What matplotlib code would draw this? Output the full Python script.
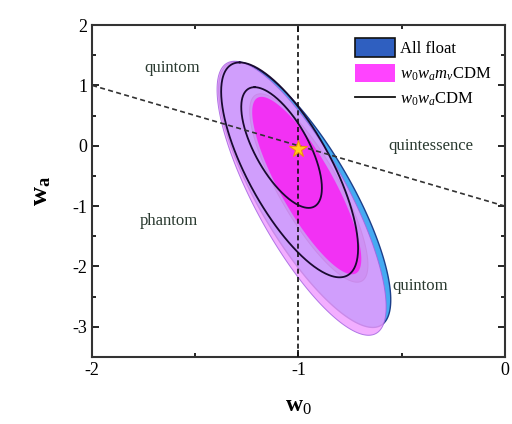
import numpy as np
import matplotlib
matplotlib.use('Agg')
import matplotlib.pyplot as plt
from matplotlib.patches import Patch
from matplotlib.lines import Line2D

plt.rcParams['font.family'] = ['Liberation Serif', 'DejaVu Serif']
plt.rcParams['mathtext.fontset'] = 'custom'
plt.rcParams['mathtext.rm'] = 'Liberation Serif'
plt.rcParams['mathtext.it'] = 'Liberation Serif:italic'
plt.rcParams['mathtext.bf'] = 'Liberation Serif:bold'
plt.rcParams['axes.unicode_minus'] = False

# contour parameters: centre (w0, wa), half-height in wa, slope dw0/dwa, half-width in w0
allfloat_2s = dict(c=(-0.970, -0.81), hy=2.20, slope=-0.150, hx=0.255)
allfloat_1s = dict(c=(-0.950, -0.70), hy=1.56, slope=-0.150, hx=0.165)
mnu_2s = dict(c=(-0.985, -0.87), hy=2.27, slope=-0.143, hx=0.250)
mnu_1s = dict(c=(-0.960, -0.66), hy=1.47, slope=-0.149, hx=0.148)
lcdm_2s = dict(c=(-1.043, -0.40), hy=1.78, slope=-0.136, hx=0.227)
lcdm_1s = dict(c=(-1.082, -0.03), hy=1.00, slope=-0.131, hx=0.145)

best_fit = (-1.0, -0.05)


def outline(p, n=300):
    t = np.linspace(0, 2 * np.pi, n)
    cx, cy = p['c']
    y = cy + p['hy'] * np.cos(t)
    x = cx + p['slope'] * (y - cy) + p['hx'] * np.sin(t)
    return x, y


fig = plt.figure(figsize=(5.12, 4.24), dpi=100)
ax = fig.add_axes([0.180, 0.158, 0.806, 0.783])

x, y = outline(allfloat_2s)
ax.fill(x, y, color='#45aaf2', ec='#1d3f8a', lw=1.0, zorder=1)
x, y = outline(allfloat_1s)
ax.fill(x, y, color='#3a62c8', ec='#1d3f8a', lw=0.8, zorder=1)
x, y = outline(mnu_2s)
ax.fill(x, y, color='#f09cff', alpha=0.82, ec='#a060e0', lw=0.7, zorder=2)
x, y = outline(mnu_1s)
ax.fill(x, y, color='#f52cf5', alpha=0.95, lw=0, zorder=3)
for p in (lcdm_2s, lcdm_1s):
    x, y = outline(p)
    ax.plot(x, y, color='#1a0a30', lw=1.3, zorder=4)

# phantom divide lines
w0_line = np.array([-2.0, 0.0])
ax.plot(w0_line, -w0_line - 1, ls=(0, (3, 2)), color='#333333', lw=1.2, zorder=5)
ax.axvline(-1.0, ls=(0, (3, 2)), color='#111111', lw=1.2, zorder=5)
ax.plot(*best_fit, marker='*', ms=13, color='#ffd21a', mec='#f09010', mew=0.8, zorder=6)

txt = dict(fontsize=12, color='#2a3a30', ha='center', va='center')
ax.text(-1.61, 1.28, 'quintom', **txt)
ax.text(-0.36, 0.0, 'quintessence', **txt)
ax.text(-1.63, -1.25, 'phantom', **txt)
ax.text(-0.41, -2.33, 'quintom', **txt)

ax.set_xlim(-2, 0)
ax.set_ylim(-3.5, 2)
ax.set_xticks([-2, -1, 0])
ax.set_yticks([-3, -2, -1, 0, 1, 2])
ax.set_xticks([-1.5, -0.5], minor=True)
ax.set_yticks(np.arange(-3.5, 2, 0.5), minor=True)
ax.tick_params(which='both', direction='in', top=True, right=True, labelsize=13, width=1.2)
ax.tick_params(which='major', length=5)
ax.tick_params(which='minor', length=3)
for s in ax.spines.values():
    s.set_linewidth(1.5)
    s.set_color('#333333')

ax.set_xlabel(r'$\mathbf{w}_0$', fontsize=17, labelpad=12)
ax.set_ylabel(r'$\mathbf{w}_\mathbf{a}$', fontsize=19, labelpad=14)

handles = [Patch(fc='#2f5fc0', ec='#111111', lw=1.2),
           Patch(fc='#ff44ff', ec='none'),
           Line2D([], [], color='#111111', lw=1.3)]
labels = ['All float', r'$w_0w_am_\nu$CDM', r'$w_0w_a$CDM']
ax.legend(handles, labels, loc='upper right', frameon=False, fontsize=12,
          handlelength=2.4, handleheight=1.3, handletextpad=0.3,
          borderaxespad=0.4, labelspacing=0.4)

fig.savefig('out.png', dpi=100)
